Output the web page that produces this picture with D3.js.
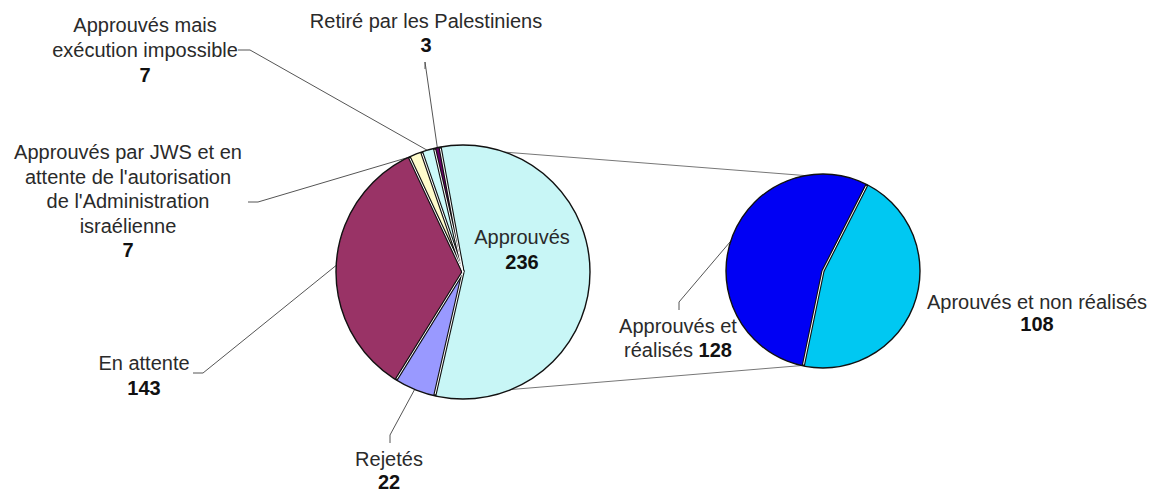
<!DOCTYPE html>
<html><head><meta charset="utf-8">
<script src="https://cdn.jsdelivr.net/npm/d3@7"></script>
<style>body{margin:0;background:#fff}svg{display:block}text{font-family:"Liberation Sans",Arial,sans-serif}</style>
</head><body>
<script>
// ---- data ----
const mainLabels = ["Approuvés", "Rejetés", "En attente",
  "Approuvés par JWS et en attente de l'autorisation de l'Administration israélienne",
  "Approuvés mais exécution impossible", "Retiré par les Palestiniens"];
const mainValues = [236, 22, 143, 7, 7, 3];
const subLabels = ["Aprouvés et non réalisés", "Approuvés et réalisés"];
const subValues = [108, 128];

// ---- styles ----
const mainColors = ["#C8F6F6", "#9999FF", "#993366", "#FFFCCC", "#CCFAFA", "#660066"];
const subColors = ["#00C8F2", "#0000F4"];

const W = 1156, H = 493, deg = Math.PI / 180;
const svg = d3.select("body").append("svg").attr("width", W).attr("height", H);

const M = {x: 463, y: 272, r: 127, start: -10.4 * deg};
const S = {x: 823, y: 271, r: 97, start: 27 * deg};

const pt = (c, a, r) => [c.x + (r ?? c.r) * Math.sin(a), c.y - (r ?? c.r) * Math.cos(a)];

const arcsM = d3.pie().sort(null).startAngle(M.start).endAngle(M.start + 2 * Math.PI)(mainValues);
const arcsS = d3.pie().sort(null).startAngle(S.start).endAngle(S.start + 2 * Math.PI)(subValues);

// connectors between pies
const line = d3.line();
[arcsM[0].startAngle, arcsM[0].endAngle].forEach(a => {
  svg.append("path").attr("d", line([pt(M, a), pt(S, a)]))
    .attr("fill", "none").attr("stroke", "#777").attr("stroke-width", 1);
});

function drawPie(c, arcs, colors) {
  const g = svg.append("g").attr("transform", `translate(${c.x},${c.y})`);
  const arcGen = d3.arc().innerRadius(0).outerRadius(c.r);
  g.selectAll("path.s").data(arcs).join("path").attr("class", "s")
    .attr("d", arcGen).attr("fill", (d, i) => colors[i]).attr("stroke", "none");
  arcs.forEach(d => {
    const p = [c.r * Math.sin(d.startAngle), -c.r * Math.cos(d.startAngle)];
    g.append("line").attr("x1", 0).attr("y1", 0).attr("x2", p[0]).attr("y2", p[1])
      .attr("stroke", "#111").attr("stroke-width", 3.2);
  });
  arcs.forEach(d => {
    const p = [(c.r - 1.5) * Math.sin(d.startAngle), -(c.r - 1.5) * Math.cos(d.startAngle)];
    g.append("line").attr("x1", 0).attr("y1", 0).attr("x2", p[0]).attr("y2", p[1])
      .attr("stroke", "#fff").attr("stroke-width", 1);
  });
  g.append("circle").attr("r", c.r).attr("fill", "none").attr("stroke", "#111").attr("stroke-width", 1.4);
}

// leader lines (label-side points are layout; slice-side points come from the arcs)
const mid = d => (d.startAngle + d.endAngle) / 2;
const leaders = [
  {arc: arcsM[1], c: M, pts: [[390, 443], [390, 435]]},
  {arc: arcsM[2], c: M, pts: [[193, 373], [203, 373]]},
  {arc: arcsM[3], c: M, pts: [[248, 202], [258, 202]]},
  {arc: arcsM[4], c: M, pts: [[238, 50], [250, 50]]},
  {arc: arcsM[5], c: M, pts: [[425, 69], [425, 62]]},
  {arc: arcsS[1], c: S, pts: [[679, 310], [679, 302]]}
];
leaders.forEach(L => {
  const end = pt(L.c, mid(L.arc), L.c.r - 1);
  svg.append("path").attr("d", line([...L.pts, end]))
    .attr("fill", "none").attr("stroke", "#555").attr("stroke-width", 1);
});

drawPie(M, arcsM, mainColors);
drawPie(S, arcsS, subColors);

// labels
const FS = 20;
function label(x, y, lines, value, opts = {}) {
  const t = svg.append("text").attr("x", x).attr("y", y).attr("text-anchor", "middle")
    .attr("font-size", FS).attr("fill", "#2a2a2a");
  lines.forEach((ln, i) => {
    t.append("tspan").attr("x", x).attr("dy", i === 0 ? 0 : opts.lh || 25).text(ln);
  });
  if (opts.inline) {
    t.append("tspan").attr("font-weight", "bold").attr("fill", "#111").text(" " + value);
  } else {
    t.append("tspan").attr("x", x).attr("dy", opts.lh || 25).attr("font-weight", "bold")
      .attr("fill", "#111").text(value);
  }
}

label(145, 32, ["Approuvés mais", "exécution impossible"], mainValues[4]);
label(426, 28, [mainLabels[5]], mainValues[5], {lh: 24});
label(128, 159, ["Approuvés par JWS et en", "attente de l'autorisation", "de l'Administration", "israélienne"], mainValues[3], {lh: 24.5});
label(144, 370, [mainLabels[2]], mainValues[2], {lh: 25});
label(389, 466, [mainLabels[1]], mainValues[1], {lh: 23});
label(522, 244, [mainLabels[0]], mainValues[0], {lh: 25});
label(678, 333, ["Approuvés et", "réalisés"], subValues[1], {inline: true, lh: 24});
label(1037, 309, [subLabels[0]], subValues[0], {lh: 22});
</script>
</body></html>
